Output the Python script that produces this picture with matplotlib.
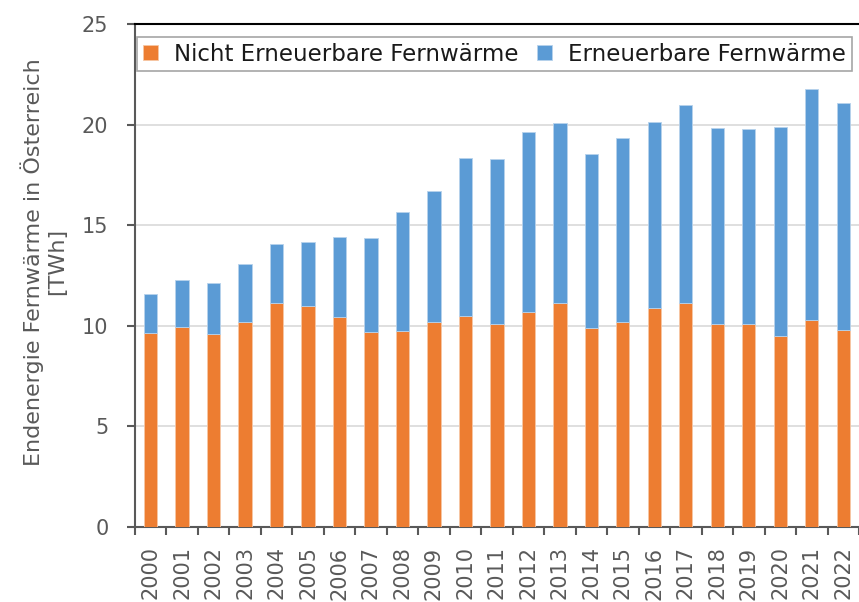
import matplotlib
matplotlib.use("Agg")
import matplotlib.pyplot as plt
import numpy as np

plt.rcParams['font.family'] = ['DejaVu Sans']

# Data (TWh)
years = [str(y) for y in range(2000, 2023)]
nicht_erneuerbar = [9.62, 9.93, 9.57, 10.21, 11.13, 11.00, 10.46, 9.70, 9.75, 10.17,
                    10.50, 10.08, 10.66, 11.13, 9.88, 10.21, 10.90, 11.13, 10.08, 10.08,
                    9.50, 10.31, 9.79]
erneuerbar = [1.94, 2.34, 2.56, 2.88, 2.92, 3.14, 3.96, 4.68, 5.88, 6.51,
              7.85, 8.22, 8.99, 8.95, 8.66, 9.11, 9.21, 9.82, 9.75, 9.70,
              10.38, 11.48, 11.29]

ORANGE = '#ED7D31'
BLUE = '#5B9BD5'
GREY = '#595959'

fig = plt.figure(figsize=(8.59, 6.02), dpi=100)
ax = fig.add_axes([0.157, 0.1246, 0.843, 0.8356])

x = np.arange(len(years))
ax.bar(x, nicht_erneuerbar, width=0.42, color=ORANGE, edgecolor='#f7c7a5',
       linewidth=0.6, label='Nicht Erneuerbare Fernwärme', zorder=3)
ax.bar(x, erneuerbar, width=0.42, bottom=nicht_erneuerbar, color=BLUE,
       edgecolor='#b7d2ec', linewidth=0.6, label='Erneuerbare Fernwärme', zorder=3)

ax.set_xlim(-0.5, len(years) - 0.5)
ax.set_ylim(0, 25)
ax.set_yticks(range(0, 26, 5))
ax.yaxis.grid(True, color='#d9d9d9', linewidth=1.2, zorder=0)

# year labels centred on bars, tick marks on category boundaries
ax.set_xticks(x)
ax.set_xticklabels(years, rotation=90, fontsize=15, color=GREY)
ax.set_xticks(np.arange(-0.5, len(years), 1), minor=True)
ax.tick_params(axis='x', which='major', length=0, pad=14)
ax.tick_params(axis='x', which='minor', length=6, width=1.5, color=GREY)
ax.tick_params(axis='y', length=6, width=1.5, color=GREY, labelsize=15,
               labelcolor=GREY, pad=13)

for side in ['left', 'bottom']:
    ax.spines[side].set_color(GREY)
    ax.spines[side].set_linewidth(1.5)
ax.spines['right'].set_visible(False)
ax.spines['top'].set_color('black')
ax.spines['top'].set_linewidth(1.5)

ax.set_ylabel('Endenergie Fernwärme in Österreich\n[TWh]', fontsize=16,
              color=GREY, linespacing=1.2)
ax.yaxis.set_label_coords(-0.094, 0.527)

leg = ax.legend(loc='upper left', bbox_to_anchor=(0.003, 0.897, 0.987, 0.077),
                mode='expand', ncol=2, fontsize=16.5, frameon=True, fancybox=False,
                edgecolor='#a6a6a6', framealpha=1, borderaxespad=0,
                handlelength=0.65, handleheight=0.65, handletextpad=0.7,
                columnspacing=0.7, borderpad=0.25)
leg.get_frame().set_linewidth(1.2)
for t in leg.get_texts():
    t.set_color('#1a1a1a')

fig.savefig('out.png', dpi=100)
